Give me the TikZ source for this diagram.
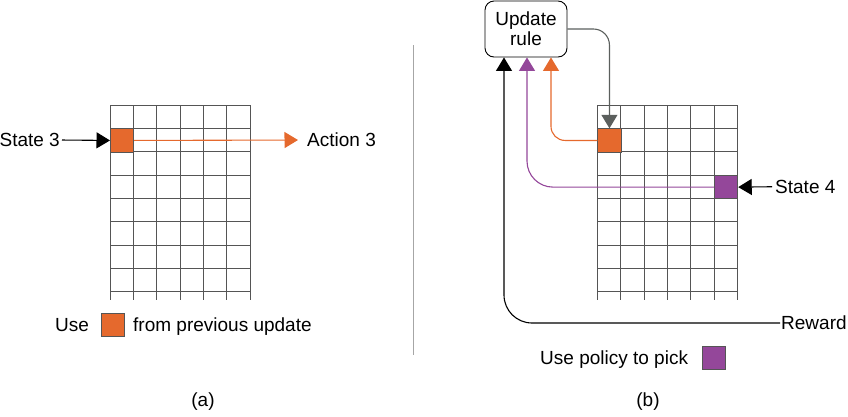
\documentclass[tikz,border=0pt]{standalone}
\usepackage{fontspec}
\setmainfont{Liberation Sans}
\usetikzlibrary{arrows.meta,calc}
\definecolor{myorange}{HTML}{E5692D}
\definecolor{mypurple}{HTML}{94479A}
\definecolor{arrgray}{HTML}{5B5F5D}
\definecolor{gridcol}{HTML}{555555}
\begin{document}
\begin{tikzpicture}[x=1pt,y=-1pt,
  font=\fontsize{19}{22}\selectfont,
  gridline/.style={draw=gridcol, line width=0.9pt},
  cell/.style={minimum width=23.33pt, minimum height=23.33pt, inner sep=0pt, draw=gridcol, line width=0.9pt},
  tip/.style={-{Triangle[length=13.5pt,width=16pt]}},
  lbl/.style={inner sep=0pt, text height=13.6pt, text depth=0pt},
  conn/.style={line width=1.1pt}]
\useasboundingbox (0,0) rectangle (848,416);

% ---------- (a) ----------
\foreach \i in {0,...,6} \draw[gridline] (110+\i*23.333,105) -- (110+\i*23.333,300);
\foreach \j in {0,...,8} \draw[gridline] (110,105+\j*23.333) -- (250,105+\j*23.333);
\node[cell, fill=myorange, anchor=north west] (oa) at (110,128.33) {};
\node[lbl, anchor=east] (s3) at (60,140) {State 3};
\node[lbl, anchor=west] (a3) at (307,140) {Action 3};
\draw[conn, tip, shorten <=2pt] (s3.east) -- (oa.west);
\draw[conn, myorange, tip, shorten >=9pt] (oa.east) -- (a3.west);

\node[lbl, anchor=west] (use) at (55,325) {Use};
\node[cell, fill=myorange, anchor=west] (lega) at (101,325) {};
\node[lbl, anchor=west] (fpu) at (133,325) {from previous update};
\node[lbl] (capa) at (203,400) {(a)};

% separator
\draw[draw=gray!70, line width=0.8pt] (413,45) -- (413,355);

% ---------- (b) ----------
\foreach \i in {0,...,6} \draw[gridline] (597.33+\i*23.333,105) -- (597.33+\i*23.333,300);
\foreach \j in {0,...,8} \draw[gridline] (597.33,105+\j*23.333) -- (737.33,105+\j*23.333);
\node[cell, fill=myorange, anchor=north west] (ob) at (597.33,128.33) {};
\node[cell, fill=mypurple, anchor=north west] (pb) at (714,175) {};

\node[draw=black, line width=0.9pt, rounded corners=9pt, minimum width=82pt, minimum height=56pt,
      align=center, inner sep=0pt] (ur) at (526,29) {Update\\[-2pt]rule};

\node[lbl, anchor=west] (s4) at (775,186.7) {State 4};
\node[lbl, anchor=west] (rw) at (781,323) {Reward};

\draw[conn, tip, shorten <=3pt] (s4.west) -- (pb.east);
\draw[conn, arrgray, tip, rounded corners=16pt] (ur.east) -| (ob.north);
\draw[conn, myorange, tip, rounded corners=14pt] (ob.west) -| ([xshift=25pt]ur.south);
\draw[conn, mypurple, tip, rounded corners=26pt] (pb.west) -| ([xshift=1pt]ur.south);
\draw[conn, black, tip, rounded corners=28pt, shorten <=1pt] (rw.west) -| ([xshift=-22pt]ur.south);

\node[lbl, anchor=west] (upp) at (540,358) {Use policy to pick};
\node[cell, fill=mypurple, anchor=west] (legb) at (702,358) {};
\node[lbl] (capb) at (648,400) {(b)};
\end{tikzpicture}
\end{document}
